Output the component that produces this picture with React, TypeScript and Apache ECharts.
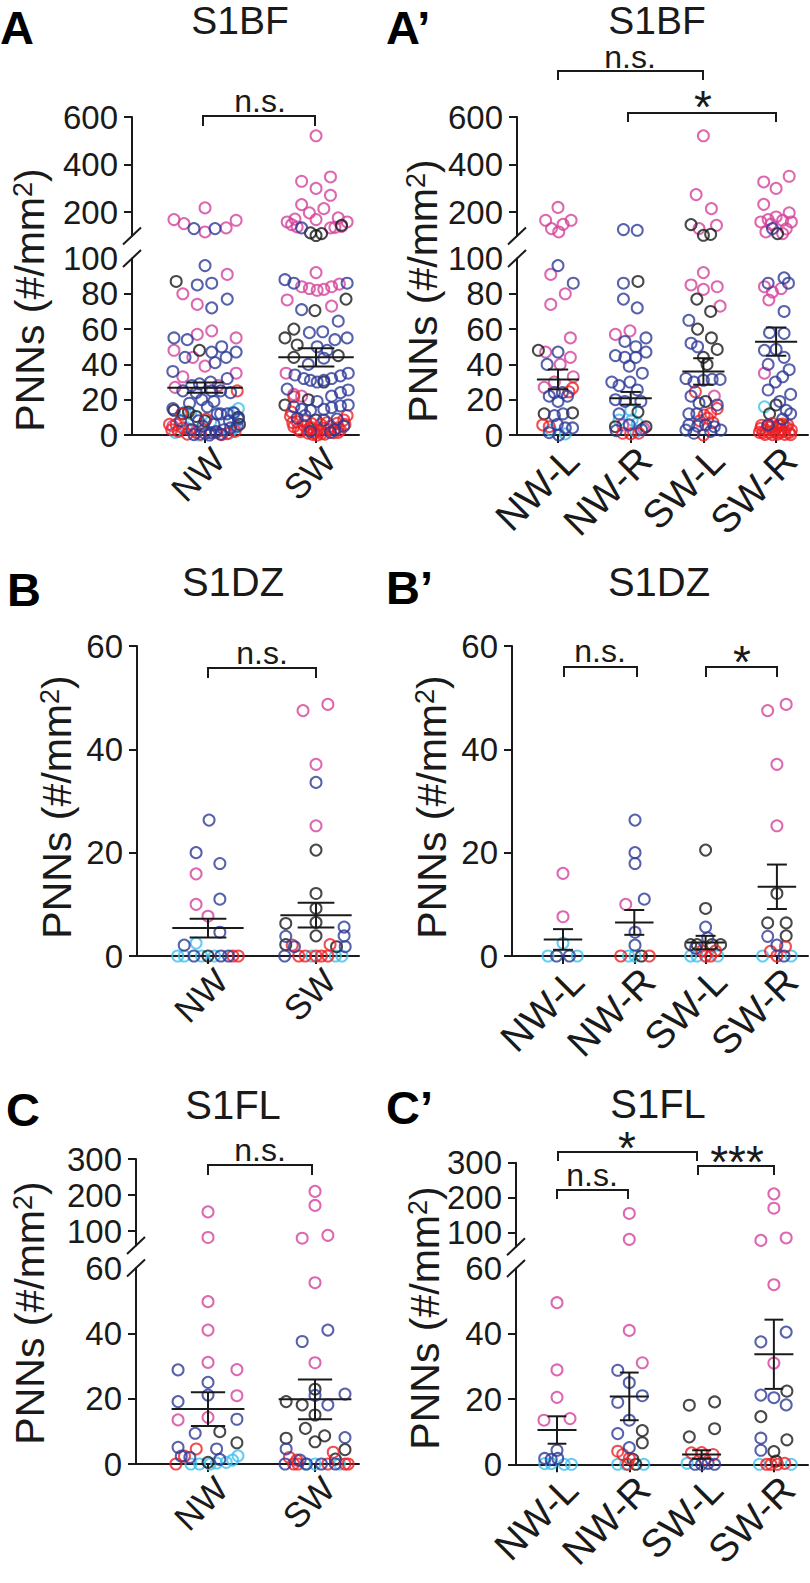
import React, { useEffect, useRef } from 'react';
import * as echarts from 'echarts';

type Pt = [number, number];

const FONT = '"Liberation Sans", Arial, Helvetica, sans-serif';
const INK = '#1a1a1a';
const COL_MAG = '#d5429c';
const COL_BLUE = '#2d3a97';
const COL_BLACK = '#1a1a1a';
const COL_RED = '#ec2227';
const COL_CYAN = '#3fc1ec';

// ---------- Panel A (S1BF, NW vs SW) ----------
const A_CATS = ['NW', 'SW'];
const A_MEAN = [26.8, 44.0];
const A_SEM = [2.9, 5.2];
const A_MAG: Pt[] = [[0.2,91],[-0.2,80],[-0.07,74],[-0.07,57],[0.06,59],[0.28,55],[-0.28,48],[-0.11,44],[0,39],[-0.2,33],[0.28,35],[-0.27,27],[0.12,28],[-0.29,5],
  [0,218],[-0.28,169],[-0.19,152],[0,117],[0.19,134],[0.28,166],
  [1,92],[0.87,84],[0.94,83],[1.01,82],[1.07,82.5],[1.14,84],[1.21,85.5],[0.74,76.5],[1.14,73],[0.73,35],[0.87,22],[0.8,23],
  [1,521],[0.87,330],[1.13,348],[1,300],[1.13,271],[0.87,232],[0.94,197],[1.07,215],[1,169],[1.2,176],[0.74,159],[0.81,171],[0.78,148],[1.28,159],[0.83,138],[1.13,134],[1.17,136],[1.23,140]];
const A_BLUE: Pt[] = [[0,96],[-0.07,85],[0.06,86],[0.2,77],[0.06,72],[-0.28,55],[-0.16,54],[-0.18,44],[0.06,47],[0.15,50],[0.19,44],[0.28,47],[0.09,41],[-0.29,36],[0.2,32],[-0.12,28],[-0.05,29],[0.05,30],[-0.2,25],[-0.08,24],[0.06,25],[0.14,25],[0.23,24],[-0.03,20],[0.08,19],[-0.14,18],[0.02,16],[-0.29,15],[0.14,12],[0.2,12],[0.26,12.5],[0.11,12],[-0.06,8],[0,1],[0.05,1.3],[0.1,2],[0.17,3],[0.23,4],[0.29,5],[-0.12,3],[-0.02,5],[0.08,6],[-0.1,0.2],[0.04,0],[0.14,0.5],[-0.22,8],[0.22,8],[0.3,9],[-0.1,131],[0.09,131],
  [0.72,88],[0.8,86],[1.28,86],[0.87,71],[1.2,64.5],[0.94,58],[1.06,58.5],[1.17,54],[1.28,55],[1.01,50],[1.1,48],[0.93,40],[1.07,43.5],[0.81,34],[0.89,32],[0.95,31],[1.01,30],[1.07,31],[1.14,32],[1.22,33.5],[1.29,35],[0.74,26],[1.01,19],[1.14,22],[1.22,24],[1.29,25.5],[0.8,16],[0.87,14.5],[0.95,14],[1.07,14.5],[1.14,15.5],[1.22,16.5],[1.29,17],[0.83,9.5],[1.07,8.5],[1.17,3],[1.25,5],[0.95,2],[1.13,1.5],[1.19,9],[0.9,11],[0.87,134]];
const A_BLACK: Pt[] = [[-0.26,87],[-0.05,48],[-0.28,14],[-0.2,12],[-0.08,10.5],[0.31,6],[0,8],[0.3,10],[-0.15,13],
  [0.99,70.5],[1.27,77],[0.8,60],[0.72,55],[0.83,51],[0.8,44],[1.2,45],[0.93,20],[1.07,30],[0.72,17],[1,8.5],[0.95,113],[1,102],[1.05,110],[1.23,145]];
const A_RED: Pt[] = [[0.29,25],[-0.21,12],[0.01,9],[-0.32,6],[-0.26,6],[-0.2,4],[-0.14,3],[-0.08,1.5],[0.1,1.3],[-0.04,0.5],[0.15,0.2],[-0.3,3],[-0.24,2],[-0.16,0.5],[0.2,0.8],[0.27,2],
  [0.8,21.7],[0.77,10.5],[0.83,7.5],[0.89,5.5],[0.95,4.3],[1.01,2.8],[1.07,3.8],[1.13,5],[1.19,6.6],[1.25,8.5],[0.86,1.9],[0.93,1],[1.01,0],[1.08,0.5],[1.16,1.3],[0.8,4.7],[1.22,2.8],[0.78,13],[1.28,11],
  [0.9,8],[0.96,6.5],[1.04,6],[1.1,7],[0.98,1.5],[1.04,2],[0.92,3],[1.12,3],[1.2,4],[0.84,3.5],[1.05,0.8],[0.97,0.3],[1.2,1.5],[0.79,7],[1.26,6]];
const A_CYAN: Pt[] = [[-0.18,13],[0.05,7.5],[0.3,15],[-0.17,4],[-0.05,0],[0.27,4],[-0.27,1.5],[0.22,1],[-0.13,12],[0.25,12.8]];

// ---------- Panel A' (S1BF, NW-L, NW-R, SW-L, SW-R) ----------
const AP_CATS = ['NW-L', 'NW-R', 'SW-L', 'SW-R'];
const AP_MEAN = [31.5, 20.8, 36.0, 52.9];
const AP_SEM = [5.6, 3.6, 7.5, 8.0];
const AP_MAG: Pt[] = [[-0.1,91],[0.1,80],[-0.1,74],[0.17,55],[-0.17,47],[0.17,44],[0.03,40],[0.21,33],[-0.19,27],[-0.05,30],[0,220],[-0.17,166],[0.18,166],[0.07,149],[-0.09,131],[0.01,117],
  [0.79,57],[0.99,59],[0.89,5.7],[1.18,3.8],
  [2,92],[1.83,85],[2,82.5],[2.19,84],[2.23,73],[2.15,22],[2,521],[1.9,274],[2.11,215],[2.18,145],[1.94,131],
  [2.84,84],[2.95,81],[3.07,83],[2.9,76.5],[2.84,35],[3.18,351],[2.83,327],[3,300],[2.83,233],[3.18,197],[3,180],[2.89,169],[3.09,166],[2.79,159],[3.21,159],[2.93,150],[3.14,130],[2.86,117],[3.09,110]];
const AP_BLUE: Pt[] = [[0,96],[0.21,86],[0,47],[-0.15,40],[-0.05,24],[0.06,24],[-0.12,22],[0,19],[0.13,22],[-0.05,11],[0.07,12],[-0.01,6],[0.1,4],[0.2,4],[0.01,0],[-0.12,1.3],
  [0.9,86],[0.9,77],[1.09,72],[0.92,53],[1.21,55],[1.07,50],[0.79,45],[0.92,44],[1.07,44],[1.21,47],[0.98,39],[1.16,35],[0.74,30],[0.84,28],[0.99,30],[1.09,25.5],[0.79,20],[0.92,19],[1.14,19],[0.84,12],[0.98,5.7],[0.8,2.5],[1.15,3],[0.9,127],[1.09,124],
  [1.8,65],[1.83,52],[1.92,50],[1.76,32],[1.87,30],[2,31],[2.12,31.5],[2.23,31.5],[1.83,22],[1.94,18],[2.19,17],[1.8,12],[1.91,12],[1.8,5.7],[1.92,5],[2.03,5.7],[2.15,4.7],[1.76,2.8],[2.1,2],[1.87,1],[2.24,2.8],
  [2.89,86],[3.11,89],[3.17,86],[3.11,70],[2.91,58],[3.11,57.6],[2.84,48],[3,48.5],[3.11,44],[2.89,40],[3.09,33],[2.99,30],[3.18,37],[2.89,25.5],[3.2,23],[3.05,19],[3.14,14],[3.2,12],[2.89,5.7],[3.09,9],[2.95,131]];
const AP_BLACK: Pt[] = [[-0.27,48],[-0.19,12],[0.2,12.5],
  [1.1,87],[1.1,13],[0.79,4.7],[1.21,4.7],
  [1.91,77],[2.1,70],[1.92,60],[2.11,55],[2,44],[2.19,48.5],[2.03,19],[2.05,40],[1.83,148],[2,103],[2.1,107],
  [3,17],[2.91,12],[3.05,5.7],[3.02,110]];
const AP_RED: Pt[] = [[0.15,24.5],[-0.21,5.7],[-0.12,4.7],[0.2,26.6],
  [0.89,1],[1,0.6],[1.11,1],
  [1.89,24.5],[2.01,11.3],[2.1,12.3],[2.19,15],[2,0],[1.95,8],[2.06,9.5],[2.13,7],
  [2.79,3.8],[2.86,2.8],[2.93,4.7],[3,3.8],[3.07,3.2],[3.14,4.3],[3.21,2.8],[2.82,1.3],[2.91,1.3],[2.98,1.9],[3.05,1.3],[3.11,1.9],[3.18,1.3],[2.95,6.6],[3.09,6.2],
  [2.8,5.5],[2.88,5],[3.03,5.5],[3.16,5.7],[2.85,0.3],[2.95,0.2],[3.02,0.5],[3.12,0.3],[3.2,0.2],[2.77,1.5]];
const AP_CYAN: Pt[] = [[-0.1,2.8],[0.1,0.6],[1,14],[1.02,8.5],[1.09,6.6],[1.07,1.9],[0.84,8.5],[2.84,16]];

// ---------- Panel B (S1DZ) ----------
const B_CATS = ['NW', 'SW'];
const B_MEAN = [5.4, 7.9];
const B_SEM = [1.8, 2.4];
const B_MAG: Pt[] = [[-0.11,15.9],[-0.11,10],[0,7.7],[1.11,48.7],[0.88,47.5],[1,37.1],[1,25.2]];
const B_BLUE: Pt[] = [[0.01,26.3],[-0.11,20],[0.11,17.9],[0.11,11],[0.11,4.6],[-0.22,2.1],[-0.13,0],[0.12,0],[0.19,0],[1,33.6],[0.72,3.8],[1.26,5.6],[1.26,3.9],[1.27,1.8],[0.71,0],[0.8,1.8]];
const B_BLACK: Pt[] = [[0,0],[1,20.5],[1,12.1],[1,9.2],[0.72,6.3],[1,6.5],[1,3.9],[0.72,2.2],[1.19,1.8]];
const B_RED: Pt[] = [[0.23,0],[0.28,0],[0.78,2.1],[1.13,2.2],[0.84,0],[0.9,0],[1,0],[1.05,0],[1.11,0]];
const B_CYAN: Pt[] = [[-0.11,2.5],[-0.28,0],[-0.22,0],[-0.06,0],[0.06,0],[0.96,0],[1.18,0],[1.24,0]];

// ---------- Panel B' (S1DZ) ----------
const BP_CATS = ['NW-L', 'NW-R', 'SW-L', 'SW-R'];
const BP_MEAN = [3.2, 6.5, 2.6, 13.4];
const BP_SEM = [2.0, 2.4, 1.3, 4.3];
const BP_MAG: Pt[] = [[0,16],[0,7.6],[0.88,10],[3.13,48.7],[2.87,47.5],[3,37.1],[3,25.2]];
const BP_BLUE: Pt[] = [[-0.09,0],[0.09,0],[1.01,26.3],[1.01,20],[1.01,17.9],[1.14,11],[1.01,4.6],[1.01,2.1],[2,5.6],[1.86,1.5],[2.03,3.5],[2.87,3.8],[3,2.1],[3.1,0]];
const BP_BLACK: Pt[] = [[1.1,0],[2,20.5],[2,9.2],[1.79,2.2],[1.88,2.2],[2.09,2.2],[2.21,2.2],[3,12.1],[2.87,6.4],[3.13,6.4],[3.13,3.9]];
const BP_RED: Pt[] = [[0.81,0],[1.21,0],[1.95,1],[2.14,1],[2,0],[2.07,0],[3.12,1.8],[2.91,0.9],[3,0]];
const BP_CYAN: Pt[] = [[0,2.5],[-0.21,0],[0.2,0],[0.92,0],[1.01,0],[1.79,0],[1.88,0],[2.17,0],[2.8,0],[3.2,0]];

// ---------- Panel C (S1FL) ----------
const C_CATS = ['NW', 'SW'];
const C_MEAN = [16.8, 19.8];
const C_SEM = [5.2, 6.1];
const C_MAG: Pt[] = [[0,153],[0,82],[0,49.7],[0,41],[0,31.1],[0.27,28.9],[0.27,20.9],[-0.28,13.5],[0,14.3],[1,210],[1,171],[0.88,80],[1.12,88],[1,55.5],[1,31]];
const C_BLUE: Pt[] = [[-0.28,28.8],[0,25],[0,21.1],[-0.28,19.1],[0.27,13.7],[-0.12,9.4],[-0.28,5.1],[0.08,4.6],[-0.25,2.4],[-0.17,2],[0.11,1.4],[1.12,41],[0.88,37.5],[1.28,21.4],[1,21],[1.12,18.1],[1.28,8.1],[0.73,4.6],[0.86,1.2],[0.72,0],[0.92,0],[1.06,0],[1.19,0]];
const C_BLACK: Pt[] = [[0.11,9.9],[0.27,6.5],[0,0.5],[1,22.9],[0.73,19.1],[0.88,18.1],[1,15],[0.91,10.9],[1.09,8.6],[0.73,7.9],[1,6.8],[1.28,4.4],[1.19,1.5]];
const C_RED: Pt[] = [[-0.11,4.6],[-0.22,2.4],[-0.3,0],[1.17,3.6],[0.76,2],[0.83,1.2],[0.8,0],[0.84,0],[1.12,0],[1.28,0],[1.31,0]];
const C_CYAN: Pt[] = [[-0.16,0],[-0.08,0],[0.08,0.3],[0.17,0.5],[0.23,1.2],[0.28,2.5],[0.02,0],[0.91,0],[1,0],[1.23,0]];

// ---------- Panel C' (S1FL) ----------
const CP_CATS = ['NW-L', 'NW-R', 'SW-L', 'SW-R'];
const CP_MEAN = [10.5, 20.8, 3.0, 33.7];
const CP_SEM = [4.2, 7.3, 1.3, 10.6];
const CP_MAG: Pt[] = [[0,49.5],[0,28.9],[0,20.5],[-0.18,13.5],[0.18,14],[1,155],[1,81],[1,41],[1.18,31.1],[3,211],[3,170],[2.82,78],[3.17,85],[3,55],[3,31]];
const CP_BLUE: Pt[] = [[0,4.3],[-0.17,1.8],[-0.08,1.5],[0.01,1.8],[0.84,28.8],[1,25],[1.18,21],[0.84,19],[1,13.5],[0.84,9.4],[1,5.1],[1.91,0],[2,0],[2.09,0.3],[2.18,0],[3.17,40.5],[2.82,37.5],[2.82,21.2],[3,20.4],[3.17,18.2],[2.82,8],[2.82,4.3]];
const CP_BLACK: Pt[] = [[1.18,10.3],[1.18,6.6],[1.05,1.5],[1.09,0],[1.83,18.1],[2.18,19.1],[2.18,10.9],[1.83,8.4],[3.18,22.4],[2.82,14.6],[3.18,7.5],[3,3.9],[3.03,1]];
const CP_RED: Pt[] = [[0.84,4],[0.91,3],[1,1.8],[0.98,0],[1.86,3.5],[2,3.6],[2.16,3],[2.05,1.5],[2.9,0],[2.96,0],[3.05,0],[3.15,0.3]];
const CP_CYAN: Pt[] = [[-0.17,0.2],[-0.08,0.2],[0.1,0],[0.2,0],[0.84,0],[0.95,0],[1.2,0],[1.8,0.3],[2.8,0],[3.24,0]];

// ---------- Layout ----------
interface Seg { top: number; bottom: number; min: number; max: number; labels: number[]; ticks: number[]; }
interface Panel {
  letter: string; title: string; letterX: number; letterY: number; titleX: number; titleY: number; titleFont: number;
  ytX: number; ytY: number; xFont: number; xShift: number; xMargin: number;
  cats: string[]; left: number; right: number; xMin: number; xMax: number;
  segs: Seg[]; split: number;
  groups: { color: string; data: Pt[] }[];
  mean: number[]; sem: number[]; hw: number; sw: number;
}

const grp = (mag: Pt[], blue: Pt[], black: Pt[], red: Pt[], cyan: Pt[]) => [
  { color: COL_CYAN, data: cyan },
  { color: COL_MAG, data: mag },
  { color: COL_BLACK, data: black },
  { color: COL_RED, data: red },
  { color: COL_BLUE, data: blue },
];

const segA: Seg[] = [
  { top: 258.5, bottom: 435, min: 0, max: 100, labels: [0, 20, 40, 60, 80, 100], ticks: [0, 20, 40, 60, 80] },
  { top: 117, bottom: 236, min: 100, max: 600, labels: [200, 400, 600], ticks: [200, 400, 600] },
];
const segB: Seg[] = [
  { top: 646, bottom: 956, min: 0, max: 60, labels: [0, 20, 40, 60], ticks: [0, 20, 40, 60] },
];
const segC: Seg[] = [
  { top: 1268, bottom: 1464, min: 0, max: 60, labels: [0, 20, 40, 60], ticks: [0, 20, 40] },
  { top: 1159, bottom: 1245.4, min: 60, max: 300, labels: [100, 200, 300], ticks: [100, 200, 300] },
];
const segCP: Seg[] = [
  { top: 1268.4, bottom: 1464.3, min: 0, max: 60, labels: [0, 20, 40, 60], ticks: [0, 20, 40] },
  { top: 1162.7, bottom: 1246.7, min: 60, max: 300, labels: [100, 200, 300], ticks: [100, 200, 300] },
];

const PANELS: Panel[] = [
  { letter: 'A', title: 'S1BF', letterX: 0, letterY: 27, titleX: 240, titleY: 20.5, titleFont: 39, ytX: 30, ytY: 300, xFont: 35, xShift: -19, xMargin: 32,
    cats: A_CATS, left: 132, right: 359, xMin: -0.658, xMax: 1.387, segs: segA, split: 100,
    groups: grp(A_MAG, A_BLUE, A_BLACK, A_RED, A_CYAN), mean: A_MEAN, sem: A_SEM, hw: 0.34, sw: 0.165 },
  { letter: 'A\u2019', title: 'S1BF', letterX: 386, letterY: 27, titleX: 657, titleY: 20.5, titleFont: 39, ytX: 423, ytY: 291, xFont: 39, xShift: -20, xMargin: 33,
    cats: AP_CATS, left: 517, right: 808, xMin: -0.564, xMax: 3.439, segs: segA, split: 100,
    groups: grp(AP_MAG, AP_BLUE, AP_BLACK, AP_RED, AP_CYAN), mean: AP_MEAN, sem: AP_SEM, hw: 0.29, sw: 0.14 },
  { letter: 'B', title: 'S1DZ', letterX: 7, letterY: 589, titleX: 233, titleY: 582, titleFont: 40, ytX: 57, ytY: 807, xFont: 35, xShift: -19, xMargin: 32,
    cats: B_CATS, left: 137, right: 359, xMin: -0.657, xMax: 1.398, segs: segB, split: 1000,
    groups: grp(B_MAG, B_BLUE, B_BLACK, B_RED, B_CYAN), mean: B_MEAN, sem: B_SEM, hw: 0.33, sw: 0.17 },
  { letter: 'B\u2019', title: 'S1DZ', letterX: 386, letterY: 587, titleX: 659, titleY: 582, titleFont: 40, ytX: 432, ytY: 807, xFont: 39, xShift: -20, xMargin: 33,
    cats: BP_CATS, left: 512, right: 808, xMin: -0.715, xMax: 3.436, segs: segB, split: 1000,
    groups: grp(BP_MAG, BP_BLUE, BP_BLACK, BP_RED, BP_CYAN), mean: BP_MEAN, sem: BP_SEM, hw: 0.27, sw: 0.14 },
  { letter: 'C', title: 'S1FL', letterX: 6, letterY: 1109, titleX: 233, titleY: 1105, titleFont: 40, ytX: 30, ytY: 1313, xFont: 35, xShift: -19, xMargin: 32,
    cats: C_CATS, left: 136, right: 359, xMin: -0.673, xMax: 1.411, segs: segC, split: 60,
    groups: grp(C_MAG, C_BLUE, C_BLACK, C_RED, C_CYAN), mean: C_MEAN, sem: C_SEM, hw: 0.34, sw: 0.16 },
  { letter: 'C\u2019', title: 'S1FL', letterX: 386, letterY: 1107, titleX: 658, titleY: 1104, titleFont: 40, ytX: 425, ytY: 1318, xFont: 39, xShift: -20, xMargin: 33,
    cats: CP_CATS, left: 516, right: 808, xMin: -0.567, xMax: 3.472, segs: segCP, split: 60,
    groups: grp(CP_MAG, CP_BLUE, CP_BLACK, CP_RED, CP_CYAN), mean: CP_MEAN, sem: CP_SEM, hw: 0.27, sw: 0.13 },
];

// significance brackets: [x1, x2, yLine, legDown, label, labelX, labelY]
const BRACKETS: [number, number, number, number, string, number, number][] = [
  [203, 315, 116, 10, 'n.s.', 260, 101],
  [558, 703, 71, 9, 'n.s.', 630, 57],
  [628, 776, 113, 9, '*', 703, 107],
  [208, 316, 668, 10, 'n.s.', 262, 653],
  [564, 637, 667, 10, 'n.s.', 600, 651],
  [706, 777, 667, 10, '*', 742, 662],
  [208, 312, 1165, 10, 'n.s.', 260, 1150],
  [558, 697, 1152, 9, '*', 627, 1148],
  [698, 774, 1166, 9, '***', 737, 1162],
  [557, 628, 1190, 9, 'n.s.', 592, 1175],
];

function buildOption() {
  const grid: any[] = [];
  const xAxis: any[] = [];
  const yAxis: any[] = [];
  const series: any[] = [];
  const graphic: any[] = [];
  const line = { color: INK, width: 2 };

  PANELS.forEach((p) => {
    const lowIdx = grid.length;
    p.segs.forEach((s, si) => {
      const g = grid.length;
      grid.push({ left: p.left, top: s.top, width: p.right - p.left, height: s.bottom - s.top });
      if (si === 0) {
        const idx = p.cats.map((_, i) => i);
        xAxis.push({
          type: 'value', gridIndex: g, min: p.xMin, max: p.xMax,
          axisLine: { show: true, onZero: false, lineStyle: line },
          axisTick: { show: true, length: 8, lineStyle: line, customValues: idx },
          axisLabel: {
            customValues: idx, formatter: (v: number) => p.cats[Math.round(v)] || '',
            rotate: 45, fontSize: p.xFont, color: INK, fontFamily: FONT, margin: p.xMargin,
            padding: [0, p.xShift, 0, 0],
          },
          splitLine: { show: false },
        });
      } else {
        xAxis.push({ type: 'value', gridIndex: g, min: p.xMin, max: p.xMax, show: false });
      }
      yAxis.push({
        type: 'value', gridIndex: g, min: s.min, max: s.max,
        axisLine: { show: true, onZero: false, lineStyle: line },
        axisTick: { show: true, length: 8, lineStyle: line, customValues: s.ticks },
        axisLabel: { customValues: s.labels, fontSize: 33, color: INK, fontFamily: FONT, margin: 14 },
        splitLine: { show: false },
      });
      p.groups.forEach((gr) => {
        const data = gr.data.filter(([, v]) => p.segs.length === 1 || (si === 0 ? v < p.split : v >= p.split));
        series.push({
          type: 'scatter', xAxisIndex: g, yAxisIndex: g, data, symbol: 'circle', symbolSize: 11,
          clip: false, silent: true, emphasis: { disabled: true },
          itemStyle: { color: 'rgba(255,255,255,0)', borderColor: gr.color, borderWidth: 2 },
        });
      });
    });

    const hw = p.hw, sw = p.sw;
    series.push({
      type: 'custom', xAxisIndex: lowIdx, yAxisIndex: lowIdx, z: 10, silent: true, clip: false,
      encode: { x: 0, y: 1 },
      data: p.mean.map((m, i) => [i, m, p.sem[i]]),
      renderItem: (_params: any, api: any) => {
        const x = api.value(0), m = api.value(1), s = api.value(2);
        const a = api.coord([x - hw, m]), b = api.coord([x + hw, m]);
        const t1 = api.coord([x - sw, m + s]), t2 = api.coord([x + sw, m + s]);
        const b1 = api.coord([x - sw, m - s]), b2 = api.coord([x + sw, m - s]);
        const vt = api.coord([x, m + s]), vb = api.coord([x, m - s]);
        const st = { stroke: INK, lineWidth: 2 };
        const mk = (p1: number[], p2: number[]) => ({ type: 'line', shape: { x1: p1[0], y1: p1[1], x2: p2[0], y2: p2[1] }, style: st });
        return { type: 'group', children: [mk(a, b), mk(t1, t2), mk(b1, b2), mk(vt, vb)] };
      },
    });

    if (p.segs.length === 2) {
      [p.segs[1].bottom, p.segs[0].top].forEach((yy) => {
        graphic.push({ type: 'line', shape: { x1: p.left - 9, y1: yy + 8.5, x2: p.left + 9, y2: yy - 8.5 }, style: { stroke: INK, lineWidth: 2 } });
      });
    }

    graphic.push({ type: 'text', x: p.letterX, y: p.letterY,
      style: { text: p.letter, font: `bold 47px ${FONT}`, fill: '#000', align: 'left', verticalAlign: 'middle' } });
    graphic.push({ type: 'text', x: p.titleX, y: p.titleY,
      style: { text: p.title, font: `${p.titleFont}px ${FONT}`, fill: INK, align: 'center', verticalAlign: 'middle' } });
    graphic.push({ type: 'text', x: p.ytX, y: p.ytY, rotation: Math.PI / 2,
      style: {
        text: '{a|PNNs (#/mm}{s|2}{a|)}', align: 'center', verticalAlign: 'middle',
        rich: {
          a: { fontSize: 41, fontFamily: FONT, fill: INK },
          s: { fontSize: 27, fontFamily: FONT, fill: INK, verticalAlign: 'top' },
        },
      } });
  });

  BRACKETS.forEach(([x1, x2, y, d, label, lx, ly]) => {
    graphic.push({ type: 'polyline', shape: { points: [[x1, y + d], [x1, y], [x2, y], [x2, y + d]] },
      style: { stroke: INK, lineWidth: 2, fill: null } });
    const star = label.indexOf('*') >= 0;
    graphic.push({ type: 'text', x: lx, y: ly,
      style: { text: label, font: `${star ? 46 : 32}px ${FONT}`, fill: INK, align: 'center', verticalAlign: 'middle' } });
  });

  return { animation: false, backgroundColor: '#fff', grid, xAxis, yAxis, series, graphic };
}

export default function App() {
  const ref = useRef<HTMLDivElement>(null);
  useEffect(() => {
    if (!ref.current) return;
    const chart = echarts.init(ref.current, undefined, { renderer: 'svg' });
    chart.setOption(buildOption() as any);
    return () => chart.dispose();
  }, []);
  return <div ref={ref} style={{ position: 'absolute', left: 0, top: 0, width: 810, height: 1583, background: '#fff' }} />;
}
